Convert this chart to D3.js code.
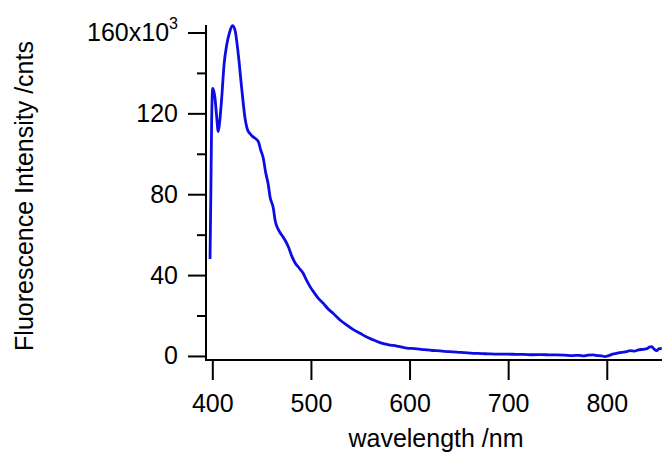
<!DOCTYPE html>
<html lang="en">

<head>
  <meta charset="utf-8">
  <style>
    body {
      margin: 0;
      padding: 0;
      background: #fff;
      font-family: "Liberation Sans", Arial, Helvetica, sans-serif;
    }
  </style>
</head>

<body>
  <svg width="663" height="453"></svg>
  <script src="https://d3js.org/d3.v7.min.js"></script>
  <script>
    // emission spectrum, intensity in units of 10^3 counts
    var wavelength = [397.7, 398.5, 399.3, 400.4, 401.5, 402.7, 404.3, 406, 407.5, 409.5,
      411.9, 414.6, 417.5, 420.3, 423, 426.4, 429.8, 433.2, 436, 438.2,
      441, 443.3, 446.7, 449, 451.7, 454, 456.8, 458.5, 461.9, 463.6,
      467, 470.4, 473.5, 477.1, 480.5, 484, 488, 492, 495, 499.1,
      503, 507.5, 512.6, 517, 522.7, 529.5, 536.3, 543, 549.8, 556,
      563, 570, 578, 587, 597, 605, 615, 623, 631, 640,
      648, 656, 664.7, 673, 681.6, 690, 700, 708, 715, 725,
      735, 742, 749, 757, 765, 772, 776, 781, 786, 791,
      795, 798, 802, 806, 810, 815, 820, 823.6, 828, 832,
      837, 841, 843, 845.6, 848, 850.7, 853, 855.8];

    var intensity = [48, 80, 115, 132.4, 131, 127.6, 119, 111, 116, 127.4,
      144, 153.8, 160, 163.4, 161.2, 148.9, 132.4, 117.6, 111.5, 110,
      108.5, 107.7, 106, 102, 97.8, 91, 84.6, 78.8, 73, 67.3,
      62.5, 59.8, 57.5, 54, 49.5, 46, 43.5, 41, 38, 34.3,
      31.5, 28.5, 26, 23.5, 21, 17.8, 15.3, 13, 11.2, 9.5,
      8, 6.6, 5.6, 4.9, 3.9, 3.6, 3.1, 2.7, 2.5, 2.1,
      1.9, 1.6, 1.3, 1.2, 1.0, 0.9, 0.9, 0.8, 0.8, 0.6,
      0.7, 0.5, 0.5, 0.4, 0.2, 0.3, 0.0, 0.4, 0.5, 0.2,
      0.0, -0.3, 0.2, 0.9, 1.3, 1.8, 2.1, 2.6, 2.4, 3.0,
      3.3, 3.6, 4.4, 4.6, 3.4, 2.6, 3.6, 3.8];

    var xTicks = [400, 500, 600, 700, 800];
    var yTicks = [0, 40, 80, 120, 160];
    var yMinorTicks = [20, 60, 100, 140];

    var svg = d3.select("svg");

    var x = d3.scaleLinear()
      .domain([393.6, 856])
      .range([206, 662]);

    var y = d3.scaleLinear()
      .domain([-2, 163.7])
      .range([360, 25]);

    var data = wavelength.map(function(w, i) {
      return { w: w, v: intensity[i] };
    });

    // y axis
    var yAxis = svg.append("g")
      .attr("transform", "translate(206,0)")
      .call(d3.axisLeft(y).tickValues(yTicks).tickSize(18).tickPadding(10)
        .tickFormat(function(d) { return d; }));

    yAxis.select(".domain").remove();
    yAxis.selectAll("line").attr("stroke", "#000").attr("stroke-width", 2);
    yAxis.selectAll("text")
      .attr("fill", "#000")
      .style("font-size", "25px")
      .style("font-family", "'Liberation Sans', Arial, sans-serif")
      .attr("x", -28);

    // top label gets the x10^3 multiplier
    yAxis.selectAll(".tick text")
      .filter(function(d) { return d === 160; })
      .text(null)
      .call(function(t) {
        t.append("tspan").text("160x10");
        t.append("tspan").attr("dy", "-0.75em").style("font-size", "16px").text("3");
      });

    svg.append("g")
      .attr("transform", "translate(206,0)")
      .call(d3.axisLeft(y).tickValues(yMinorTicks).tickSize(9).tickFormat(""))
      .call(function(g) {
        g.select(".domain").remove();
        g.selectAll("line").attr("stroke", "#000").attr("stroke-width", 2);
      });

    svg.append("line")
      .attr("x1", 206).attr("x2", 206)
      .attr("y1", y.range()[1]).attr("y2", y.range()[0] + 1)
      .attr("stroke", "#000").attr("stroke-width", 2);

    // x axis
    var xAxis = svg.append("g")
      .attr("transform", "translate(0,360)")
      .call(d3.axisBottom(x).tickValues(xTicks).tickSize(20).tickPadding(14));

    xAxis.select(".domain").remove();
    xAxis.selectAll("line").attr("stroke", "#000").attr("stroke-width", 2);
    xAxis.selectAll("text")
      .attr("fill", "#000")
      .style("font-size", "25px")
      .style("font-family", "'Liberation Sans', Arial, sans-serif");

    svg.append("line")
      .attr("x1", x.range()[0] - 1).attr("x2", x.range()[1])
      .attr("y1", 360).attr("y2", 360)
      .attr("stroke", "#000").attr("stroke-width", 2);

    // axis titles
    svg.append("text")
      .attr("x", 436)
      .attr("y", 447)
      .attr("text-anchor", "middle")
      .style("font-size", "25px")
      .text("wavelength /nm");

    svg.append("text")
      .attr("transform", "translate(33,196) rotate(-90)")
      .attr("text-anchor", "middle")
      .style("font-size", "25px")
      .text("Fluorescence Intensity /cnts");

    // spectrum
    var line = d3.line()
      .x(function(d) { return x(d.w); })
      .y(function(d) { return y(d.v); })
      .curve(d3.curveMonotoneX);

    svg.append("path")
      .datum(data)
      .attr("fill", "none")
      .attr("stroke", "#0c0ce4")
      .attr("stroke-width", 2.8)
      .attr("stroke-linejoin", "round")
      .attr("d", line);
  </script>
</body>

</html>
